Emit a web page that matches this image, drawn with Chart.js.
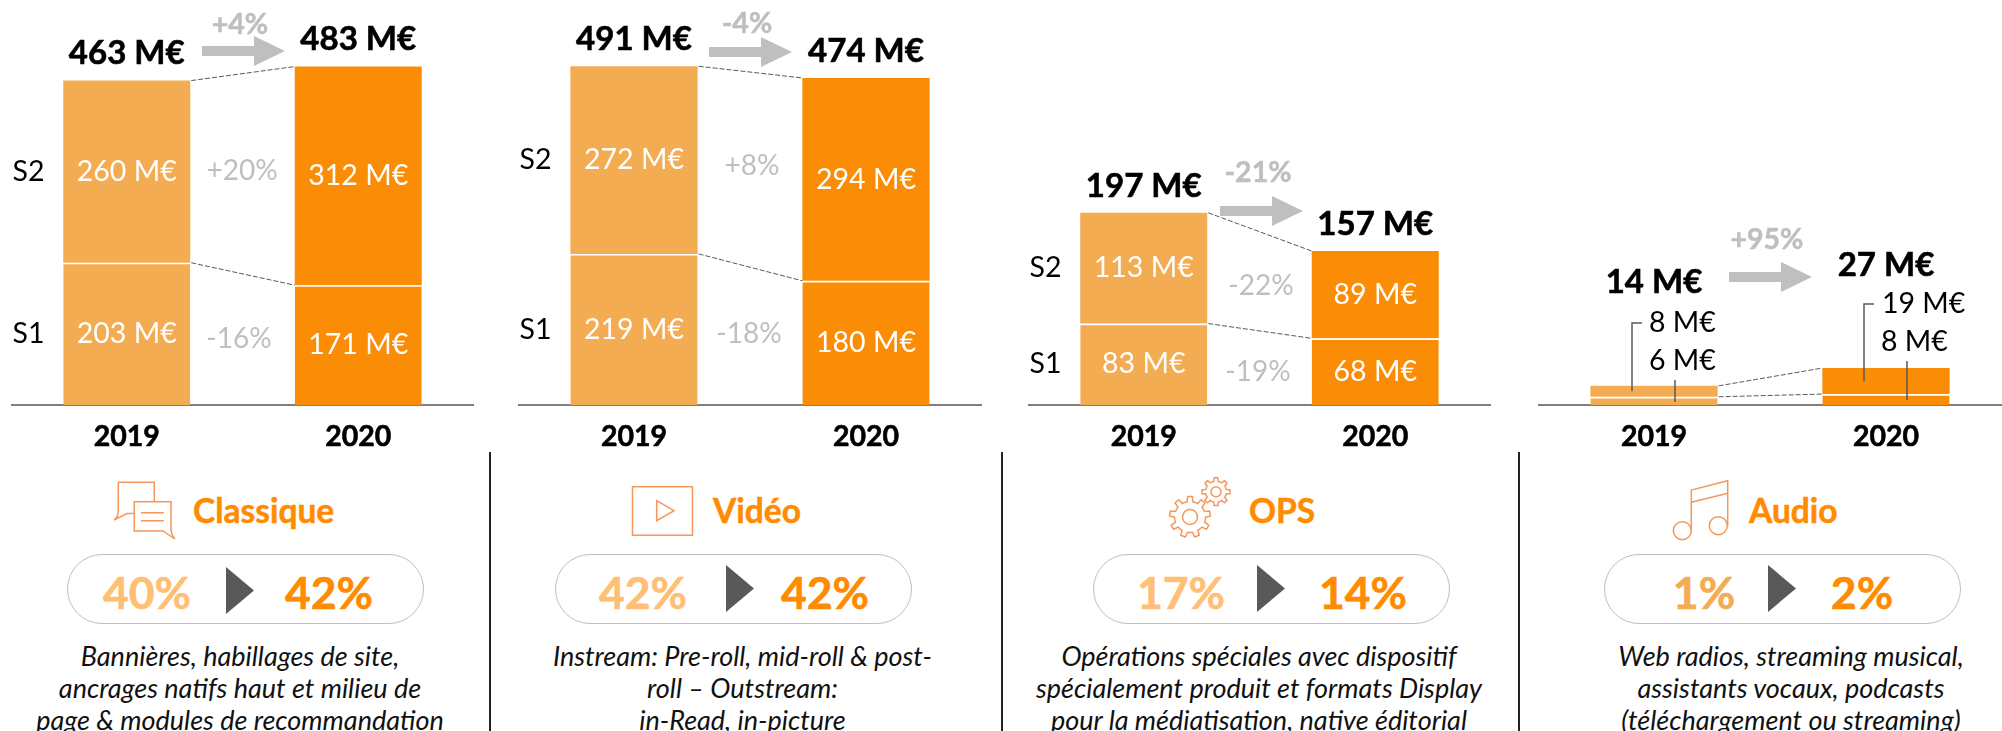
<!DOCTYPE html>
<html lang="fr"><head><meta charset="utf-8">
<script src="https://cdn.jsdelivr.net/npm/chart.js@4"></script>
<style>
html,body{margin:0;padding:0;background:#fff;width:2002px;height:731px;overflow:hidden;font-family:Lato,sans-serif}
canvas{position:absolute;top:0}
#art{position:absolute;left:0;top:0}
.t{position:absolute;white-space:nowrap;transform:translate(-50%,-50%);line-height:1}
.g{color:#bfbfbf;font-size:28px}
.gb{color:#bfbfbf;font-size:28.5px;font-weight:700;-webkit-text-stroke:.5px #bfbfbf}
.h{color:#ff8c00;font-size:33.5px;font-weight:700;transform:translate(0,-50%);-webkit-text-stroke:.5px #ff8c00}
.p{font-size:44.5px;font-weight:700;-webkit-text-stroke:.6px currentColor}
.d{font-style:italic;font-size:27px;color:#111}
.pill{position:absolute;top:554px;height:68px;border:1.5px solid #bfbfbf;border-radius:36px;box-sizing:content-box}
.sep{position:absolute;top:452px;height:279px;width:2px;background:#222}
</style></head><body>
<script>
// ---- data (M€) ----
const categories = ['2019', '2020'];
const seriesNames = ['S1', 'S2'];
const classiqueS1 = [203, 171];
const classiqueS2 = [260, 312];
const classiqueTotal = [463, 483];
const videoS1 = [219, 180];
const videoS2 = [272, 294];
const videoTotal = [491, 474];
const opsS1 = [83, 68];
const opsS2 = [113, 89];
const opsTotal = [197, 157];
const audioS1 = [6, 8];
const audioS2 = [8, 19];
const audioTotal = [14, 27];
const panelTitles = ['Classique', 'Vidéo', 'OPS', 'Audio'];
const growthTotal = ['+4%', '-4%', '-21%', '+95%'];
const growthS2 = ['+20%', '+8%', '-22%', ''];
const growthS1 = ['-16%', '-18%', '-19%', ''];
const share2019 = ['40%', '42%', '17%', '1%'];
const share2020 = ['42%', '42%', '14%', '2%'];
const descriptions = [
  ['Bannières, habillages de site,', 'ancrages natifs haut et milieu de', 'page & modules de recommandation'],
  ['Instream: Pre-roll, mid-roll & post-', 'roll – Outstream:', 'in-Read, in-picture'],
  ['Opérations spéciales avec dispositif', 'spécialement produit et formats Display', 'pour la médiatisation, native éditorial'],
  ['Web radios, streaming musical,', 'assistants vocaux, podcasts', '(téléchargement ou streaming)']
];

// ---- layout & style ----
const C19 = '#f4ac52', C20 = '#fb8c05', LINE = '#7f7f7f', DASH = '#595959';
const FONT = 'Lato, sans-serif';
const layouts = [
  {left: 11, width: 463, yMax: 578, totalGap: 27, leftLabels: true},
  {left: 518, width: 464, yMax: 587, totalGap: 26.5, leftLabels: true},
  {left: 1028, width: 463, yMax: 413, totalGap: 26.5, leftLabels: true},
  {left: 1538, width: 464, yMax: 296, totalGap: 103, leftLabels: false,
   leaders: [
     {bar: 0, y: 323, tx: 1649, seg: 1},
     {bar: 0, y: 361, tx: 1649, seg: 0},
     {bar: 1, y: 304, tx: 1882, seg: 1},
     {bar: 1, y: 342, tx: 1881, seg: 0}
   ]}
];
const arrows = [
  {x: 202, y: 51, hx: 254, lx: 240, ly: 23, s2x: 242, s2y: 169, s1x: 239, s1y: 337},
  {x: 709, y: 52, hx: 761, lx: 747, ly: 22, s2x: 752, s2y: 164, s1x: 749, s1y: 332},
  {x: 1220, y: 211, hx: 1272, lx: 1258, ly: 171, s2x: 1261, s2y: 284, s1x: 1258, s1y: 370},
  {x: 1729, y: 277, hx: 1781, lx: 1767, ly: 238, s2x: 0, s2y: 0, s1x: 0, s1y: 0}
];
const lower = [
  {tx: 193, ps: 67, a: 147, tri: 226, b: 329, triY: 567},
  {tx: 713, ps: 555, a: 643, tri: 726, b: 825, triY: 565},
  {tx: 1249, ps: 1093, a: 1181, tri: 1257, b: 1363, triY: 565},
  {tx: 1749, ps: 1604, a: 1704, tri: 1768, b: 1862, triY: 565}
];
const descX = [240, 742.5, 1259, 1791];
const sepX = [489, 1001, 1518];

const panelPlugin = {
  id: 'panelPlugin',
  afterDatasetsDraw(chart, args, o) {
    const ctx = chart.ctx;
    const s1 = chart.getDatasetMeta(0).data, s2 = chart.getDatasetMeta(1).data;
    ctx.save();
    // dashed connectors between the bars
    ctx.strokeStyle = DASH; ctx.lineWidth = 1; ctx.setLineDash([5, 2]);
    [s1, s2].forEach(d => {
      ctx.beginPath();
      ctx.moveTo(d[0].x + d[0].width / 2 + 1, d[0].y);
      ctx.lineTo(d[1].x - d[1].width / 2, d[1].y);
      ctx.stroke();
    });
    ctx.setLineDash([]);
    ctx.textAlign = 'center'; ctx.textBaseline = 'middle';
    // totals above the stacks
    ctx.font = '700 33px ' + FONT; ctx.fillStyle = '#000';
    ctx.strokeStyle = '#000'; ctx.lineWidth = 0.6;
    s2.forEach((el, i) => {
      ctx.fillText(o.totals[i] + ' M€', el.x, el.y - o.layout.totalGap);
      ctx.strokeText(o.totals[i] + ' M€', el.x, el.y - o.layout.totalGap);
    });
    // segment values
    ctx.font = '400 28.5px ' + FONT;
    if (o.layout.leftLabels) {
      ctx.fillStyle = '#fff';
      [[s1, o.s1], [s2, o.s2]].forEach(([d, vals]) => d.forEach((el, i) =>
        ctx.fillText(vals[i] + ' M€', el.x, (el.y + el.base) / 2)));
      ctx.fillStyle = '#000';
      ctx.fillText(seriesNames[0], 17.5, (s1[0].y + s1[0].base) / 2);
      ctx.fillText(seriesNames[1], 17.5, (s2[0].y + s2[0].base) / 2);
    } else {
      ctx.fillStyle = '#000'; ctx.textAlign = 'left';
      ctx.strokeStyle = '#595959'; ctx.lineWidth = 1.5;
      o.layout.leaders.forEach(l => {
        const el = (l.seg ? s2 : s1)[l.bar];
        const vals = l.seg ? o.s2 : o.s1;
        ctx.fillText(vals[l.bar] + ' M€', l.tx - o.layout.left, l.y);
        ctx.beginPath();
        if (l.seg) {
          const x = el.x - 22;
          ctx.moveTo(x, (el.y + el.base) / 2);
          ctx.lineTo(x, l.y);
          ctx.lineTo(x + 10, l.y);
        } else {
          const x = el.x + 21;
          ctx.moveTo(x, l.y + 19);
          ctx.lineTo(x, el.base - (l.bar ? 5 : 3));
        }
        ctx.stroke();
      });
    }
    ctx.restore();
  }
};

const dataSets = [
  [classiqueS1, classiqueS2, classiqueTotal],
  [videoS1, videoS2, videoTotal],
  [opsS1, opsS2, opsTotal],
  [audioS1, audioS2, audioTotal]
];

dataSets.forEach(([s1, s2, totals], idx) => {
  const L = layouts[idx];
  const cv = document.createElement('canvas');
  cv.width = L.width; cv.height = 460;
  cv.style.left = L.left + 'px'; cv.style.width = L.width + 'px'; cv.style.height = '460px';
  document.body.appendChild(cv);
  const bar = {backgroundColor: [C19, C20], barPercentage: 0.5486, categoryPercentage: 1, inflateAmount: 0};
  new Chart(cv, {
    type: 'bar',
    data: {labels: categories, datasets: [
      {label: seriesNames[0], data: s1, ...bar, borderColor: '#fff', borderWidth: {top: 1.6, left: 0, right: 0, bottom: 0}, borderSkipped: false},
      {label: seriesNames[1], data: s2, ...bar, borderWidth: 0}
    ]},
    options: {
      responsive: false, animation: false, devicePixelRatio: 1,
      layout: {padding: 0},
      events: [],
      plugins: {legend: {display: false}, tooltip: {enabled: false},
        panelPlugin: {layout: L, totals, s1, s2}},
      scales: {
        x: {stacked: true, offset: true,
          afterFit: s => { s.height = 55; },
          grid: {display: false, drawTicks: false},
          border: {color: LINE, width: 2},
          ticks: {color: '#000', padding: 15, maxRotation: 0, textStrokeColor: '#000', textStrokeWidth: 0.6,
            font: {family: FONT, size: 28.5, weight: '700'}}},
        y: {stacked: true, display: false, min: 0, max: L.yMax}
      }
    },
    plugins: [panelPlugin]
  });
});

// ---- overlay: text, arrows, icons ----
function txt(cls, s, x, y, color) {
  const e = document.createElement('div');
  e.className = 't ' + cls; e.textContent = s;
  e.style.left = x + 'px'; e.style.top = y + 'px';
  if (color) e.style.color = color;
  document.body.appendChild(e);
}
arrows.forEach((a, i) => {
  txt('gb', growthTotal[i], a.lx, a.ly);
  if (growthS2[i]) { txt('g', growthS2[i], a.s2x, a.s2y); txt('g', growthS1[i], a.s1x, a.s1y); }
});
lower.forEach((l, i) => {
  const h = document.createElement('div'); h.className = 't h'; h.textContent = panelTitles[i];
  h.style.left = l.tx + 'px'; h.style.top = '511px'; document.body.appendChild(h);
  const p = document.createElement('div'); p.className = 'pill';
  p.style.left = l.ps + 'px'; p.style.width = '355px'; document.body.appendChild(p);
  txt('p', share2019[i], l.a, 592, i === 3 ? '#f4ac52' : '#ffbf75');
  txt('p', share2020[i], l.b, 592, '#ff8c00');
  descriptions[i].forEach((s, j) => txt('d', s, descX[i], 655 + j * 32));
});
sepX.forEach(x => { const s = document.createElement('div'); s.className = 'sep'; s.style.left = x + 'px'; document.body.appendChild(s); });

function gear(cx, cy, ro, ri, n) {
  let d = '';
  const st = Math.PI * 2 / n;
  for (let k = 0; k < n; k++) {
    const a = k * st - Math.PI / 2;
    const pts = [[ri, a - st * .5], [ri, a - st * .27], [ro, a - st * .17], [ro, a + st * .17], [ri, a + st * .27]];
    pts.forEach((p, j) => { d += (k === 0 && j === 0 ? 'M' : 'L') + (cx + p[0] * Math.cos(p[1])).toFixed(1) + ',' + (cy + p[0] * Math.sin(p[1])).toFixed(1); });
  }
  return d + 'Z';
}
const arrowSvg = arrows.map(a => `<path fill="#bfbfbf" d="M${a.x},${a.y - 5}H${a.hx}V${a.y - 15}L${a.x + 83},${a.y}L${a.hx},${a.y + 15}V${a.y + 5}H${a.x}Z"/>`).join('');
const triSvg = lower.map(l => `<path fill="#595959" d="M${l.tri},${l.triY}L${l.tri + 28},${l.triY + 23.5}L${l.tri},${l.triY + 47}Z"/>`).join('');
const ic = `fill="none" stroke="#f5975a" stroke-width="1.5"`;
const icons = `
<g ${ic}>
<path d="M134,513.5H127L114,520C117,518 118.3,515 118.3,511V482.3H154.3V501.7"/>
<path d="M134.3,501.7H171V528C171,533 172,536 175,539L163,531H134.3Z"/>
<path d="M141,512.7H164M141,520.7H164"/>
<rect x="632.5" y="486.7" width="60" height="48.5"/>
<path d="M656.7,500.7L674,510.7L656.7,520.7Z"/>
<path d="${gear(1190, 517, 20.5, 15.5, 9)}"/><circle cx="1190" cy="517" r="7.5"/>
<path d="${gear(1216, 491.7, 14, 10.5, 8)}"/><circle cx="1216" cy="491.7" r="5"/>
<circle cx="1682.3" cy="530.7" r="9"/><circle cx="1718.3" cy="525.7" r="9"/>
<path d="M1691.3,530V490L1727.7,480.7V526M1691.3,502.3L1727.7,493.3"/>
</g>`;
const svg = document.createElementNS('http://www.w3.org/2000/svg', 'svg');
svg.setAttribute('id', 'art'); svg.setAttribute('width', 2002); svg.setAttribute('height', 731);
svg.innerHTML = arrowSvg + triSvg + icons;
document.body.appendChild(svg);
</script>
</body></html>
